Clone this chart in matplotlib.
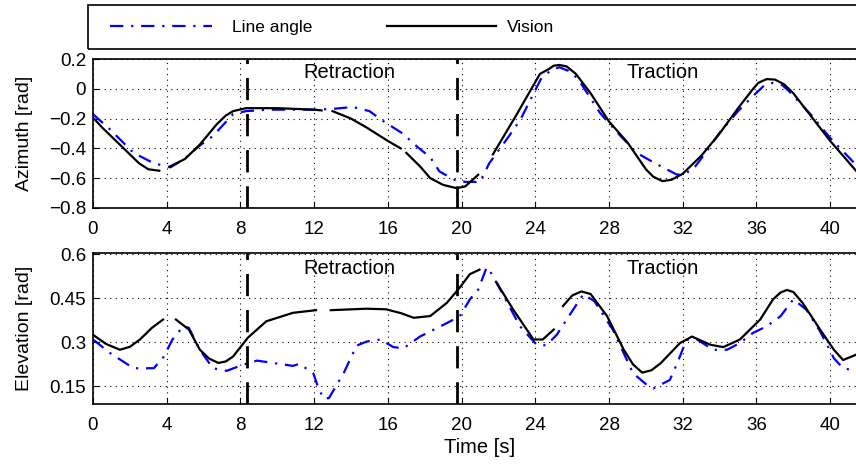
import numpy as np
import matplotlib
matplotlib.use('Agg')
import matplotlib.pyplot as plt
from matplotlib.lines import Line2D
from matplotlib.patches import Rectangle

plt.rcParams['font.family'] = ['Liberation Sans', 'DejaVu Sans']

nan = np.nan

# azimuth - line angle (blue)
t_az_line = [0, 0.9, 2.2, 3.3, 4.2, 4.9, 5.8, 6.5, 7.6, 8.3, 9.5, 11, 12, 13, 14.1, 15, 15.75,
             16.8, 17.6, 18.3, 18.8, 19.6, 20.2, 21, 21.5, 22.5, 23.2, 24.3, 24.8, 25.3, 25.8,
             26.3, 27.5, 28.5, 29.5, 30.5, 31.7, 32.5, 33.3, 34, 35, 35.8, 36.4, 36.9, 37.4,
             37.8, 39, 40, 41.4]
az_line = [-0.17, -0.27, -0.43, -0.5, -0.527, -0.476, -0.38, -0.318, -0.17, -0.15, -0.14, -0.14,
           -0.14, -0.135, -0.122, -0.15, -0.217, -0.3, -0.39, -0.46, -0.555, -0.61, -0.625,
           -0.625, -0.5, -0.33, -0.205, 0.065, 0.12, 0.145, 0.12, 0.07, -0.16, -0.3, -0.43,
           -0.5, -0.577, -0.55, -0.42, -0.295, -0.15, -0.05, 0.02, 0.04, 0.025, -0.02, -0.18,
           -0.33, -0.51]

# azimuth - vision (black), nan = gap
t_az_vis = [0, 0.5, 1, 1.5, 2, 2.5, 3, 3.6, 3.9, 4.2, 5, 5.8, 6.7, 7.2, 7.6, 8.3, 10, 12, 12.4,
            12.7, 13.0, 14, 14.85, 16, 16.7, 16.85, 17.0, 17.74, 18.3, 19, 19.73, 20.2, 20.9,
            21.3, 21.7, 23, 24.25, 24.7, 25.0, 25.3, 25.7, 26.2, 27, 28, 29, 30, 30.4, 30.9,
            31.4, 32, 33, 34, 35, 35.8, 36.1, 36.55, 37.0, 37.5, 38, 39, 40, 41.4]
az_vis = [-0.194, -0.26, -0.32, -0.38, -0.44, -0.5, -0.54, -0.55, nan, -0.52, -0.47, -0.374,
          -0.24, -0.18, -0.15, -0.13, -0.13, -0.14, -0.145, nan, -0.15, -0.2, -0.26, -0.35,
          -0.40, nan, -0.43, -0.52, -0.6, -0.645, -0.667, -0.655, -0.577, nan, -0.44, -0.17,
          0.1, 0.13, 0.155, 0.16, 0.15, 0.1, -0.03, -0.22, -0.36, -0.54, -0.59, -0.62, -0.61,
          -0.57, -0.45, -0.3, -0.13, -0.003, 0.04, 0.065, 0.062, 0.03, -0.03, -0.19, -0.35,
          -0.55]

# elevation - line angle (blue)
t_el_line = [0, 0.92, 2.2, 3.3, 3.85, 4.3, 4.9, 5.2, 5.8, 6.5, 7.25, 8.1, 8.9, 10.85, 11.2,
             11.95, 12.2, 12.5, 12.8, 13.6, 14.3, 14.85, 15.6, 16.3, 16.85, 17.74, 19.2, 19.9,
             20.45, 20.9, 21.36, 21.5, 22.1, 23.17, 24.07, 24.6, 25.16, 25.7, 26.6, 27.2, 28.2,
             29.3, 30.0, 30.4, 31.3, 31.7, 32.2, 32.8, 33.65, 34.4, 35.1, 35.8, 36.55, 37.3,
             38.0, 38.7, 39.45, 40.2, 40.7, 41.4]
el_line = [0.31, 0.264, 0.212, 0.212, 0.252, 0.309, 0.355, 0.35, 0.275, 0.212, 0.203, 0.223,
           0.238, 0.22, 0.227, 0.195, 0.15, 0.109, 0.11, 0.195, 0.289, 0.303, 0.31, 0.284,
           0.28, 0.32, 0.366, 0.389, 0.447, 0.48, 0.556, 0.548, 0.48, 0.355, 0.292, 0.29,
           0.326, 0.378, 0.464, 0.441, 0.344, 0.195, 0.158, 0.143, 0.172, 0.229, 0.309, 0.309,
           0.275, 0.275, 0.298, 0.332, 0.355, 0.389, 0.447, 0.412, 0.338, 0.246, 0.212, 0.203]

# elevation - vision (black), nan = gap
t_el_vis = [0, 0.7, 1.46, 2.0, 2.55, 3.2, 3.8, 4.15, 4.5, 5.2, 5.8, 6.3, 6.8, 7.2, 7.6, 8.4, 9.4,
            10.85, 12.1, 12.5, 12.9, 14.85, 15.9, 16.7, 17.4, 18.3, 19.2, 19.9, 20.45, 20.97,
            21.4, 21.9, 22.8, 23.9, 24.4, 25.0, 25.25, 25.5, 26.0, 26.5, 27.0, 27.9, 28.8, 29.3,
            29.8, 30.3, 30.8, 31.85, 32.5, 33.5, 34.2, 35.1, 36.2, 36.9, 37.3, 37.65, 38.0,
            38.5, 39.45, 40.2, 40.7, 41.4]
el_vis = [0.326, 0.295, 0.275, 0.285, 0.31, 0.35, 0.378, nan, 0.378, 0.344, 0.275, 0.245,
          0.23, 0.235, 0.252, 0.316, 0.372, 0.401, 0.41, nan, 0.41, 0.415, 0.413, 0.40, 0.384,
          0.39, 0.435, 0.487, 0.533, 0.548, nan, 0.504, 0.412, 0.31, 0.31, 0.344, nan, 0.424,
          0.46, 0.474, 0.465, 0.389, 0.275, 0.225, 0.197, 0.205, 0.229, 0.298, 0.32, 0.292,
          0.284, 0.31, 0.378, 0.447, 0.47, 0.479, 0.472, 0.435, 0.344, 0.275, 0.24, 0.258]

phase_lines = [8.34, 19.73]
xticks = np.arange(0, 44, 4)

blue_style = dict(color='#0000ff', lw=1.6, dashes=(6, 3.5, 1, 3.5))
black_style = dict(color='black', lw=1.6)

fig = plt.figure(figsize=(8.56, 4.67), dpi=100)
W, H = 856, 467
xmax = 42
axw = xmax * 18.43 / W
ax1 = fig.add_axes([93 / W, 1 - 208 / H, axw, (208 - 59) / H])
ax2 = fig.add_axes([93 / W, 1 - 404 / H, axw, (404 - 253) / H])

ax1.plot(t_az_line, az_line, **blue_style)
ax1.plot(t_az_vis, az_vis, **black_style)
ax2.plot(t_el_line, el_line, **blue_style)
ax2.plot(t_el_vis, el_vis, **black_style)

for ax in (ax1, ax2):
    ax.set_xlim(0, xmax)
    ax.set_xticks(xticks)
    ax.grid(True, color='black', linestyle=(0, (1, 4)), linewidth=0.8)
    ax.tick_params(direction='in', labelsize=13.5, length=4)
    ax.tick_params(axis='x', pad=9)
    ax.tick_params(axis='y', pad=5)
    for spine in ax.spines.values():
        spine.set_linewidth(1.2)
    for x in phase_lines:
        ax.axvline(x, color='black', lw=2, dashes=(8, 5))

ax1.set_ylim(-0.8, 0.2)
ax1.set_yticks([-0.8, -0.6, -0.4, -0.2, 0, 0.2])
ax1.set_yticklabels(['\u22120.8', '\u22120.6', '\u22120.4', '\u22120.2', '0', '0.2'])
ax1.set_ylabel('Azimuth [rad]', fontsize=14)
ax1.yaxis.set_label_coords(-0.078, 0.5)
ax1.text(13.9, 0.112, 'Retraction', fontsize=14.5, ha='center', va='center')
ax1.text(30.9, 0.112, 'Traction', fontsize=14.5, ha='center', va='center')

ax2.set_ylim(0.09, 0.605)
ax2.set_yticks([0.15, 0.3, 0.45, 0.6])
ax2.set_yticklabels(['0.15', '0.3', '0.45', '0.6'])
ax2.set_ylabel('Elevation [rad]', fontsize=14)
ax2.yaxis.set_label_coords(-0.077, 0.5)
ax2.set_xlabel('Time [s]', fontsize=14.5)
ax2.xaxis.set_label_coords(0.5, -0.225)
ax2.text(13.9, 0.553, 'Retraction', fontsize=14.5, ha='center', va='center')
ax2.text(30.9, 0.553, 'Traction', fontsize=14.5, ha='center', va='center')

# legend box across the top
fig.patches.append(Rectangle((88 / W, 1 - 49 / H), 0.9, 44 / H, transform=fig.transFigure,
                             fill=False, edgecolor='black', lw=1.2))
leg_font = {'size': 12.5}
leg1 = fig.legend([Line2D([], [], **blue_style)], ['Line angle'], loc='center left',
                  bbox_to_anchor=(110 / W, 1 - 27 / H), borderpad=0, borderaxespad=0,
                  handlelength=5.9, handletextpad=1.1, frameon=False, prop=leg_font)
leg2 = fig.legend([Line2D([], [], **black_style)], ['Vision'], loc='center left',
                  bbox_to_anchor=(387 / W, 1 - 27 / H), borderpad=0, borderaxespad=0,
                  handlelength=6.3, handletextpad=0.6, frameon=False, prop=leg_font)

fig.savefig('out.png', dpi=100)
